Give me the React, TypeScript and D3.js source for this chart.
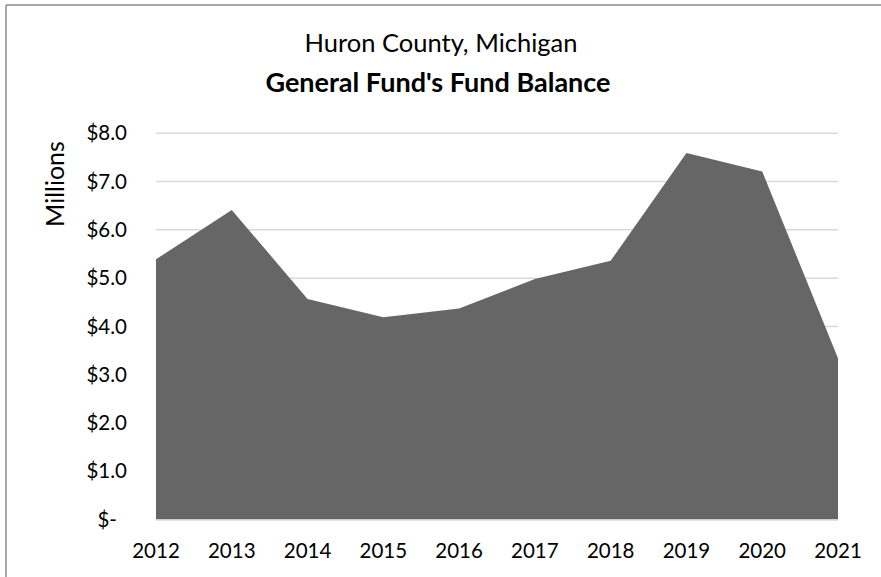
import React from "react";
import * as d3 from "d3";

const years = ["2012", "2013", "2014", "2015", "2016", "2017", "2018", "2019", "2020", "2021"];
const balances = [5.39, 6.41, 4.57, 4.19, 4.37, 4.98, 5.36, 7.59, 7.21, 3.34];
const yTicks = [0, 1, 2, 3, 4, 5, 6, 7, 8];
const titleLine1 = "Huron County, Michigan";
const titleLine2 = "General Fund's Fund Balance";
const yAxisTitle = "Millions";

const W = 881;
const H = 577;
const left = 156;
const right = 838;
const top = 133.3;
const bottom = 519.5;
const FONT = "Lato, 'Open Sans', sans-serif";

export default function App() {
  const x = d3.scalePoint<string>().domain(years).range([left, right]);
  const y = d3.scaleLinear().domain([0, 8]).range([bottom, top]);
  const data = years.map((yr, i) => ({ yr, v: balances[i] }));
  const area = d3
    .area<{ yr: string; v: number }>()
    .x((d) => x(d.yr) as number)
    .y0(y(0))
    .y1((d) => y(d.v));
  const fmt = (v: number) => (v === 0 ? "$-" : "$" + d3.format(".1f")(v));

  return (
    <svg
      width={W}
      height={H}
      style={{ position: "absolute", left: 0, top: 0, background: "#fff" }}
      fontFamily={FONT}
    >
      <rect x={0} y={0} width={W} height={H} fill="#fff" />
      <line x1={6} y1={5} x2={W} y2={5} stroke="#8a8a8a" strokeWidth={1.5} />
      <line x1={6} y1={5} x2={6} y2={H} stroke="#8a8a8a" strokeWidth={1.5} />

      <text x={441} y={52} textAnchor="middle" fontSize={25.5} fill="#000">
        {titleLine1}
      </text>
      <text x={438} y={92} textAnchor="middle" fontSize={27} fontWeight="bold" fill="#000">
        {titleLine2}
      </text>

      <text
        transform={`translate(64,184) rotate(-90)`}
        textAnchor="middle"
        fontSize={25}
        fill="#000"
      >
        {yAxisTitle}
      </text>

      {yTicks.map((t) => (
        <g key={t}>
          {t > 0 && (
            <line x1={left} x2={right} y1={y(t)} y2={y(t)} stroke="#d9d9d9" strokeWidth={1.5} />
          )}
          <text
            x={t === 0 ? 117 : 127}
            y={y(t)}
            dy="0.35em"
            textAnchor="end"
            fontSize={20.5}
            fill="#000"
          >
            {fmt(t)}
          </text>
        </g>
      ))}

      <path d={area(data) ?? ""} fill="#666666" />
      <line x1={left} x2={right} y1={bottom + 0.5} y2={bottom + 0.5} stroke="#d9d9d9" strokeWidth={1.5} />

      {years.map((yr) => (
        <text key={yr} x={x(yr)} y={558} textAnchor="middle" fontSize={20.5} fill="#000">
          {yr}
        </text>
      ))}
    </svg>
  );
}
